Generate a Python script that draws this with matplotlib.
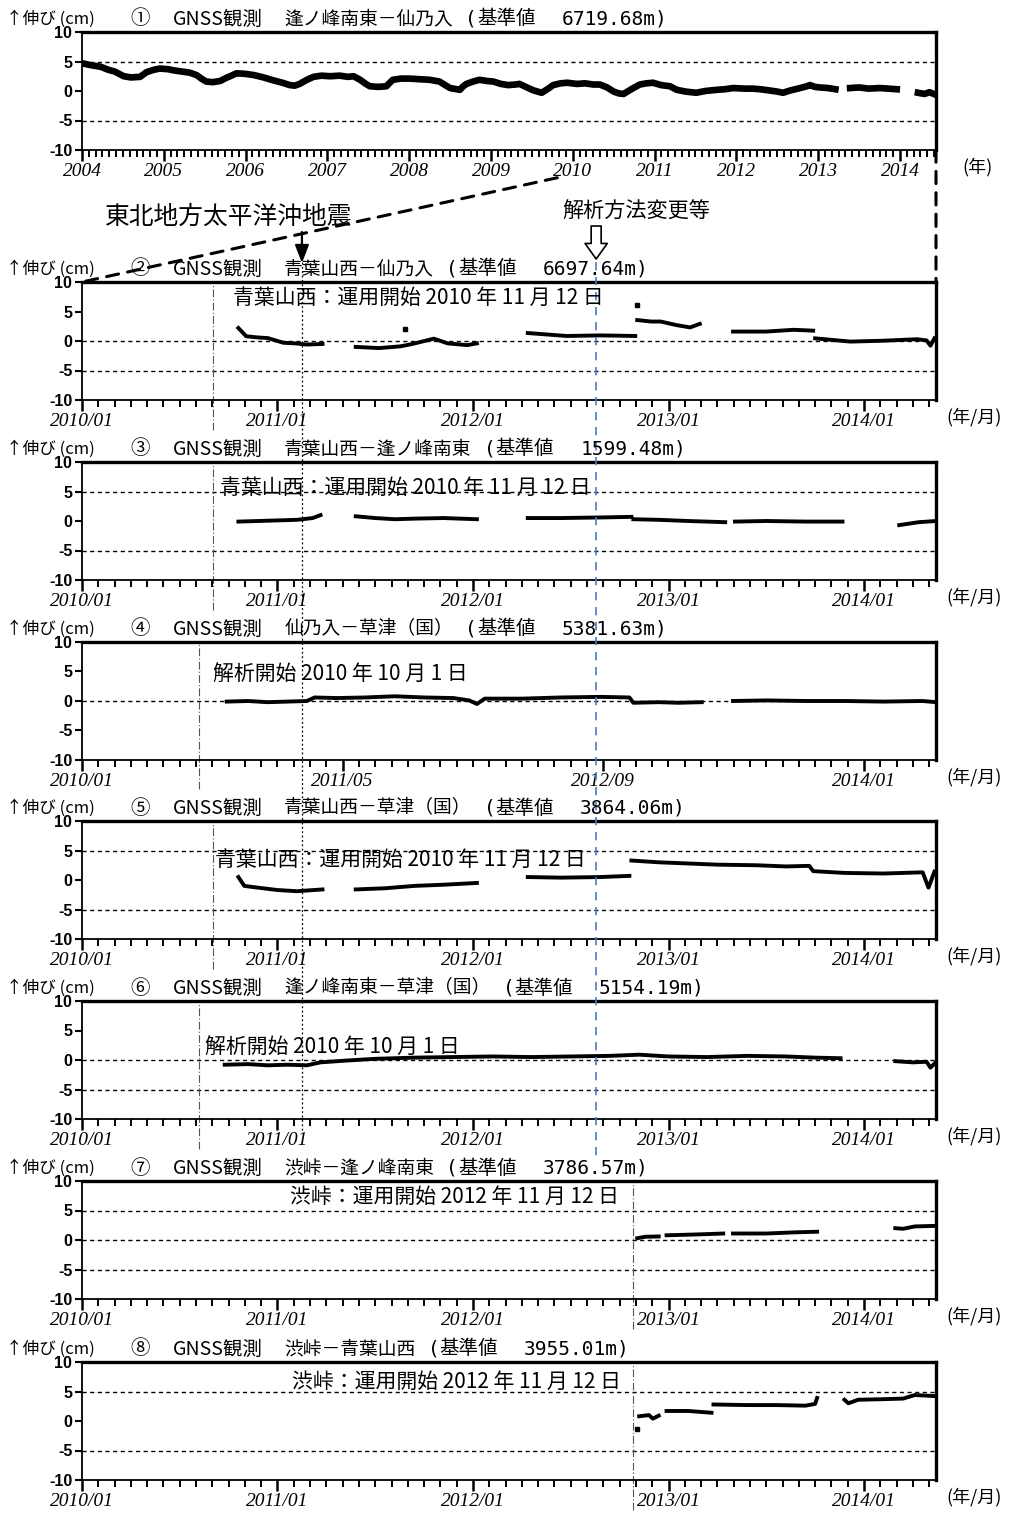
import numpy as np, matplotlib
matplotlib.use('Agg')
import matplotlib.pyplot as plt
from matplotlib.lines import Line2D
from matplotlib.patches import ConnectionPatch, FancyArrowPatch

nan = np.nan

# ---- data: decimal year / baseline change (cm); nan splits segments ----
p1_t = [2004.00, 2004.10, 2004.23, 2004.32, 2004.40, 2004.51, 2004.60, 2004.71, 2004.79, 2004.88,
        2004.95, 2005.05, 2005.12, 2005.22, 2005.32, 2005.40, 2005.47, 2005.52, 2005.60, 2005.69,
        2005.76, 2005.81, 2005.89, 2006.00, 2006.10, 2006.22, 2006.34, 2006.45, 2006.54, 2006.60,
        2006.66, 2006.75, 2006.83, 2006.93, 2007.03, 2007.15, 2007.25, 2007.32, 2007.40, 2007.47,
        2007.52, 2007.62, 2007.72, 2007.77, 2007.80, 2007.90, 2008.01, 2008.12, 2008.25, 2008.37,
        2008.44, 2008.50, 2008.58, 2008.62, 2008.66, 2008.70, 2008.78, 2008.86, 2008.95, 2009.03,
        2009.12, 2009.21, 2009.30, 2009.35, 2009.44, 2009.52, 2009.62, 2009.70, 2009.76, 2009.85,
        2009.93, 2010.05, 2010.15, 2010.25, 2010.33, 2010.42, 2010.50, 2010.56, 2010.62, 2010.68,
        2010.74, 2010.82, 2010.90, 2010.98, 2011.08, 2011.19, 2011.27, 2011.38, 2011.51, 2011.62,
        2011.76, 2011.86, 2011.96, 2012.10, 2012.20, 2012.29, 2012.40, 2012.50, 2012.57, 2012.66,
        2012.78, 2012.86, 2012.90, 2012.96, 2013.02, 2013.12, 2013.21, nan,
        2013.39, 2013.50, 2013.62, 2013.75, 2013.86, 2013.96, nan,
        2014.22, 2014.30, 2014.36, 2014.43]
p1_v = [4.7, 4.4, 4.1, 3.6, 3.3, 2.5, 2.3, 2.4, 3.2, 3.6,
        3.8, 3.7, 3.5, 3.3, 3.1, 2.7, 2.0, 1.6, 1.5, 1.7,
        2.2, 2.5, 3.0, 2.9, 2.7, 2.3, 1.8, 1.4, 1.0, 0.9,
        1.2, 1.9, 2.4, 2.6, 2.5, 2.6, 2.4, 2.5, 1.9, 1.2,
        0.8, 0.7, 0.8, 1.5, 1.9, 2.1, 2.1, 2.0, 1.9, 1.6,
        1.0, 0.5, 0.3, 0.2, 0.8, 1.2, 1.6, 1.9, 1.7, 1.6,
        1.2, 1.0, 1.1, 1.2, 0.6, 0.1, -0.3, 0.4, 1.0, 1.3,
        1.4, 1.2, 1.3, 1.1, 1.1, 0.6, -0.1, -0.4, -0.5, 0.0,
        0.5, 1.1, 1.3, 1.4, 1.0, 0.8, 0.2, -0.1, -0.3, 0.0,
        0.2, 0.3, 0.5, 0.4, 0.4, 0.3, 0.1, -0.1, -0.3, 0.1,
        0.5, 0.8, 1.0, 0.7, 0.6, 0.5, 0.3, nan,
        0.5, 0.6, 0.4, 0.5, 0.4, 0.3, nan,
        -0.3, -0.5, -0.2, -0.6]

p2_t = [2010.80, 2010.84, 2010.90, 2010.95, 2011.03, 2011.09, 2011.15, 2011.23, nan,
        2011.40, 2011.52, 2011.63, 2011.69, 2011.80, 2011.87, 2011.97, 2012.02, nan,
        2012.28, 2012.48, 2012.65, 2012.83, nan,
        2012.84, 2012.91, 2012.96, 2013.04, 2013.11, 2013.16, nan,
        2013.33, 2013.50, 2013.64, 2013.74, nan,
        2013.75, 2013.93, 2014.10, 2014.27, 2014.32, 2014.34, 2014.36]
p2_v = [2.2, 0.8, 0.6, 0.5, -0.3, -0.4, -0.6, -0.5, nan,
        -1.0, -1.2, -0.9, -0.5, 0.4, -0.4, -0.7, -0.4, nan,
        1.35, 0.85, 0.95, 0.85, nan,
        3.55, 3.3, 3.3, 2.7, 2.3, 2.9, nan,
        1.6, 1.6, 1.9, 1.75, nan,
        0.45, -0.1, 0.05, 0.3, 0.1, -0.8, 0.45]
p2_pt_t = [2011.65, 2012.84]
p2_pt_v = [2.0, 6.1]

p3_t = [2010.80, 2010.90, 2011.00, 2011.10, 2011.18, 2011.22, nan,
        2011.40, 2011.50, 2011.60, 2011.70, 2011.85, 2012.02, nan,
        2012.28, 2012.45, 2012.65, 2012.81, nan,
        2012.82, 2012.95, 2013.10, 2013.29, nan,
        2013.34, 2013.50, 2013.70, 2013.89, nan,
        2014.18, 2014.28, 2014.37]
p3_v = [-0.1, 0.0, 0.1, 0.2, 0.5, 1.0, nan,
        0.8, 0.5, 0.3, 0.4, 0.5, 0.3, nan,
        0.5, 0.5, 0.6, 0.7, nan,
        0.3, 0.2, 0.0, -0.2, nan,
        -0.1, 0.0, -0.1, -0.1, nan,
        -0.7, -0.2, 0.0]

p4_t = [2010.74, 2010.85, 2010.95, 2011.05, 2011.15, 2011.19, 2011.30, 2011.45, 2011.60, 2011.75,
        2011.90, 2011.98, 2012.02, 2012.06, 2012.25, 2012.45, 2012.65, 2012.80, 2012.82, 2012.95,
        2013.05, 2013.17, nan,
        2013.33, 2013.50, 2013.70, 2013.90, 2014.10, 2014.30, 2014.37]
p4_v = [-0.1, 0.0, -0.2, -0.1, 0.0, 0.6, 0.5, 0.6, 0.8, 0.6,
        0.5, 0.1, -0.5, 0.4, 0.4, 0.6, 0.7, 0.6, -0.3, -0.2,
        -0.3, -0.2, nan,
        0.0, 0.1, 0.0, 0.0, -0.1, 0.0, -0.2]

p5_t = [2010.80, 2010.83, 2010.90, 2011.00, 2011.10, 2011.23, nan,
        2011.40, 2011.55, 2011.70, 2011.85, 2012.02, nan,
        2012.28, 2012.45, 2012.65, 2012.80, nan,
        2012.81, 2012.95, 2013.10, 2013.25, 2013.45, 2013.60, 2013.72, 2013.74, 2013.90, 2014.10,
        2014.30, 2014.33, 2014.36]
p5_v = [0.5, -1.0, -1.3, -1.7, -1.9, -1.6, nan,
        -1.6, -1.4, -1.0, -0.8, -0.5, nan,
        0.5, 0.4, 0.5, 0.7, nan,
        3.3, 3.0, 2.8, 2.6, 2.5, 2.3, 2.4, 1.5, 1.2, 1.1,
        1.3, -1.3, 1.4]

p6_t = [2010.73, 2010.85, 2010.95, 2011.05, 2011.15, 2011.22, 2011.35, 2011.50, 2011.70, 2011.90,
        2012.10, 2012.30, 2012.50, 2012.70, 2012.85, 2013.00, 2013.20, 2013.40, 2013.60, 2013.75,
        2013.88, nan,
        2014.16, 2014.25, 2014.32, 2014.34, 2014.37]
p6_v = [-0.8, -0.7, -0.9, -0.8, -0.9, -0.4, -0.1, 0.2, 0.4, 0.5,
        0.6, 0.5, 0.6, 0.7, 0.9, 0.6, 0.5, 0.7, 0.6, 0.4,
        0.3, nan,
        -0.2, -0.4, -0.3, -1.3, -0.3]

p7_t = [2012.84, 2012.88, 2012.95, nan,
        2012.99, 2013.10, 2013.20, 2013.28, nan,
        2013.33, 2013.50, 2013.65, 2013.76, nan,
        2014.16, 2014.20, 2014.26, 2014.37]
p7_v = [0.3, 0.55, 0.6, nan,
        0.8, 0.9, 1.0, 1.1, nan,
        1.1, 1.1, 1.3, 1.4, nan,
        2.0, 1.9, 2.3, 2.4]

p8_t = [2012.85, 2012.90, 2012.92, 2012.95, nan,
        2012.99, 2013.10, 2013.22, nan,
        2013.23, 2013.40, 2013.55, 2013.70, 2013.75, 2013.76, nan,
        2013.90, 2013.92, 2013.97, 2014.10, 2014.20, 2014.26, 2014.32, 2014.37]
p8_v = [0.8, 1.0, 0.4, 0.9, nan,
        1.7, 1.7, 1.4, nan,
        2.8, 2.7, 2.7, 2.6, 2.9, 3.9, nan,
        3.6, 3.0, 3.6, 3.7, 3.8, 4.4, 4.3, 4.2]
p8_pt_t = [2012.84]
p8_pt_v = [-1.4]

# panel headings: number, baseline name, reference length (m)
marks = ['①', '②', '③', '④', '⑤', '⑥', '⑦', '⑧']
pairs = ['逢ノ峰南東－仙乃入', '青葉山西－仙乃入', '青葉山西－逢ノ峰南東', '仙乃入－草津（国）',
         '青葉山西－草津（国）', '逢ノ峰南東－草津（国）', '渋峠－逢ノ峰南東', '渋峠－青葉山西']
base_len = ['6719.68', '6697.64', '1599.48', '5381.63', '3864.06', '5154.19', '3786.57', '3955.01']
notes = [None,
         '青葉山西：運用開始 2010 年 11 月 12 日',
         '青葉山西：運用開始 2010 年 11 月 12 日',
         '解析開始 2010 年 10 月 1 日',
         '青葉山西：運用開始 2010 年 11 月 12 日',
         '解析開始 2010 年 10 月 1 日',
         '渋峠：運用開始 2012 年 11 月 12 日',
         '渋峠：運用開始 2012 年 11 月 12 日']
start_lines = [None, 2010.67, 2010.67, 2010.60, 2010.67, 2010.60, 2012.82, 2012.82]
hlines = [[5, -5], [0, -5], [5, -5], [0], [5, -5], [0, -5], [5, 0, -5], [5, -5]]
quake_t = 2011.125
change_t = 2012.63

year_ticks1 = list(range(2004, 2015))
year_ticks = [2010, 2011, 2012, 2013, 2014]
year_labels = ['2010/01', '2011/01', '2012/01', '2013/01', '2014/01']
p4_ticks = [2010.0, 2011 + 4 / 12, 2012 + 8 / 12, 2014.0]
p4_labels = ['2010/01', '2011/05', '2012/09', '2014/01']

series = [(p1_t, p1_v), (p2_t, p2_v), (p3_t, p3_v), (p4_t, p4_v),
          (p5_t, p5_v), (p6_t, p6_v), (p7_t, p7_v), (p8_t, p8_v)]
points = {1: (p2_pt_t, p2_pt_v), 7: (p8_pt_t, p8_pt_v)}

plt.style.use('default')
plt.rcParams['font.family'] = ['Noto Sans CJK JP', 'DejaVu Sans']
plt.rcParams['axes.unicode_minus'] = False

W, H = 1013, 1513
fig = plt.figure(figsize=(W / 100, H / 100), dpi=100)
renderer = fig.canvas.get_renderer()
L, R, PH = 82, 936, 118
tops = [32, 282, 462, 642, 821, 1001, 1181, 1362]
note_xy = [None, (233, 298), (220, 488), (213, 674), (215, 860), (205, 1047), (290, 1197), (292, 1382)]
CJK = ['Noto Sans CJK JP', 'DejaVu Sans']
MONO = ['DejaVu Sans Mono']

def fy(py):
    return 1 - py / H

def heading(top, parts, x0=130):
    # lay the heading pieces left to right with fixed pixel gaps
    x = x0
    for txt, fam, size, gap in parts:
        t = fig.text(x / W, fy(top - 13), txt, fontsize=size, family=fam,
                     va='center', ha='left')
        x = t.get_window_extent(renderer).x1 + gap

axes = []
for i, top in enumerate(tops):
    ax = fig.add_axes([L / W, fy(top + PH), (R - L) / W, PH / H])
    axes.append(ax)
    t, v = series[i]
    ax.plot(t, v, color='black', lw=4.8 if i == 0 else 2.8, zorder=3)
    if i in points:
        ax.plot(points[i][0], points[i][1], 's', color='black', ms=2.5, zorder=3)
    for y in hlines[i]:
        ax.axhline(y, color='black', lw=1.0, ls=(0, (3, 2.5)), zorder=1)
    ax.set_ylim(-10, 10)
    ax.set_yticks([-10, -5, 0, 5, 10])
    ax.set_yticklabels(['-10', '-5', '0', '5', '10'], fontfamily='Liberation Sans',
                       fontweight='bold', fontsize=11.5)
    for s in ['top', 'right']:
        ax.spines[s].set_linewidth(2.4)
    for s in ['left', 'bottom']:
        ax.spines[s].set_linewidth(1.3)
    if i == 0:
        ax.set_xlim(2004, 2004 + (R - L) / 81.8)
        ax.set_xticks(year_ticks1)
        ax.set_xticklabels([str(y) for y in year_ticks1])
        ax.set_xticks(np.arange(2004, 2014.44, 1 / 12), minor=True)
    else:
        ax.set_xlim(2010, 2010 + (R - L) / 195.5)
        ax.set_xticks(p4_ticks if i == 3 else year_ticks)
        ax.set_xticklabels(p4_labels if i == 3 else year_labels)
        ax.set_xticks(np.arange(2010, 2014.37, 1 / 12), minor=True)
    ax.tick_params(axis='y', which='major', left=True, direction='out', length=5,
                   width=1.5, pad=2, color='black')
    ax.tick_params(axis='x', which='major', bottom=True, direction='out', length=8,
                   width=1.8, pad=1.5, color='black')
    ax.tick_params(axis='x', which='minor', bottom=True, direction='out', length=5,
                   width=1.4, color='black')
    for lab in ax.get_xticklabels():
        lab.set_fontfamily('Liberation Serif')
        lab.set_fontstyle('italic')
        lab.set_fontsize(14)
    if start_lines[i] is not None:
        ax.axvline(start_lines[i], ymin=-0.25, ymax=1, color='#555555', lw=0.8,
                   ls=(0, (7, 2, 1, 2)), clip_on=False, zorder=2)
    if notes[i]:
        nx, ny = note_xy[i]
        fig.text(nx / W, fy(ny), notes[i], fontsize=15, va='center', ha='left')
    fig.text(6 / W, fy(top - 13), '↑伸び (cm)', fontsize=12, va='center')
    heading(top, [(marks[i], CJK, 14, 23), ('GNSS観測', CJK, 14, 22),
                  (pairs[i], CJK, 13.5, 12), ('(', MONO, 14, 0),
                  ('基準値', CJK, 14, 26), (base_len[i] + 'm)', MONO, 14, 0)])
    if i == 0:
        fig.text(962 / W, fy(top + PH + 17), '(年)', fontsize=13, va='center')
    else:
        fig.text(946 / W, fy(top + PH + 17), '(年/月)', fontsize=13, va='center')

ax1, ax2 = axes[0], axes[1]

# dashed guides linking the 2010- portion of panel 1 to the expanded panels
con = ConnectionPatch(xyA=(2009.81, -14.7), coordsA=ax1.transData,
                      xyB=(2010.0, 10), coordsB=ax2.transData,
                      color='black', lw=2.2, ls=(0, (4, 3)))
fig.add_artist(con)
con2 = ConnectionPatch(xyA=(ax1.get_xlim()[1], -10), coordsA=ax1.transData,
                       xyB=(ax2.get_xlim()[1], 10), coordsB=ax2.transData,
                       color='black', lw=2.2, ls=(0, (4, 3)))
fig.add_artist(con2)

def xfig(t):
    return fig.transFigure.inverted().transform(ax2.transData.transform((t, 0)))[0]

# earthquake line and analysis-change line across the lower panels
xq = xfig(quake_t)
fig.add_artist(Line2D([xq, xq], [fy(262), fy(1132)], color='black', lw=0.9,
                      ls=(0, (1.5, 2))))
xc = xfig(change_t)
fig.add_artist(Line2D([xc, xc], [fy(262), fy(1160)], color='#4a7ec0', lw=1.2,
                      ls=(0, (5, 4))))

fig.text(105 / W, fy(217), '東北地方太平洋沖地震', fontsize=17.8, va='center', ha='left')
fig.add_artist(FancyArrowPatch((xq, fy(232)), (xq, fy(263)), transform=fig.transFigure,
                               arrowstyle='-|>,head_width=0.35,head_length=0.9',
                               color='black', lw=1.6, mutation_scale=12,
                               shrinkA=0, shrinkB=0))
fig.text(562 / W, fy(212), '解析方法変更等', fontsize=15.2, va='center', ha='left')
fig.add_artist(FancyArrowPatch((xc, fy(226)), (xc, fy(259)), transform=fig.transFigure,
                               arrowstyle='simple,head_width=1.0,head_length=0.7,tail_width=0.45',
                               fc='white', ec='black', lw=1.2, mutation_scale=16,
                               shrinkA=0, shrinkB=0))

fig.savefig('out.png', dpi=100)
